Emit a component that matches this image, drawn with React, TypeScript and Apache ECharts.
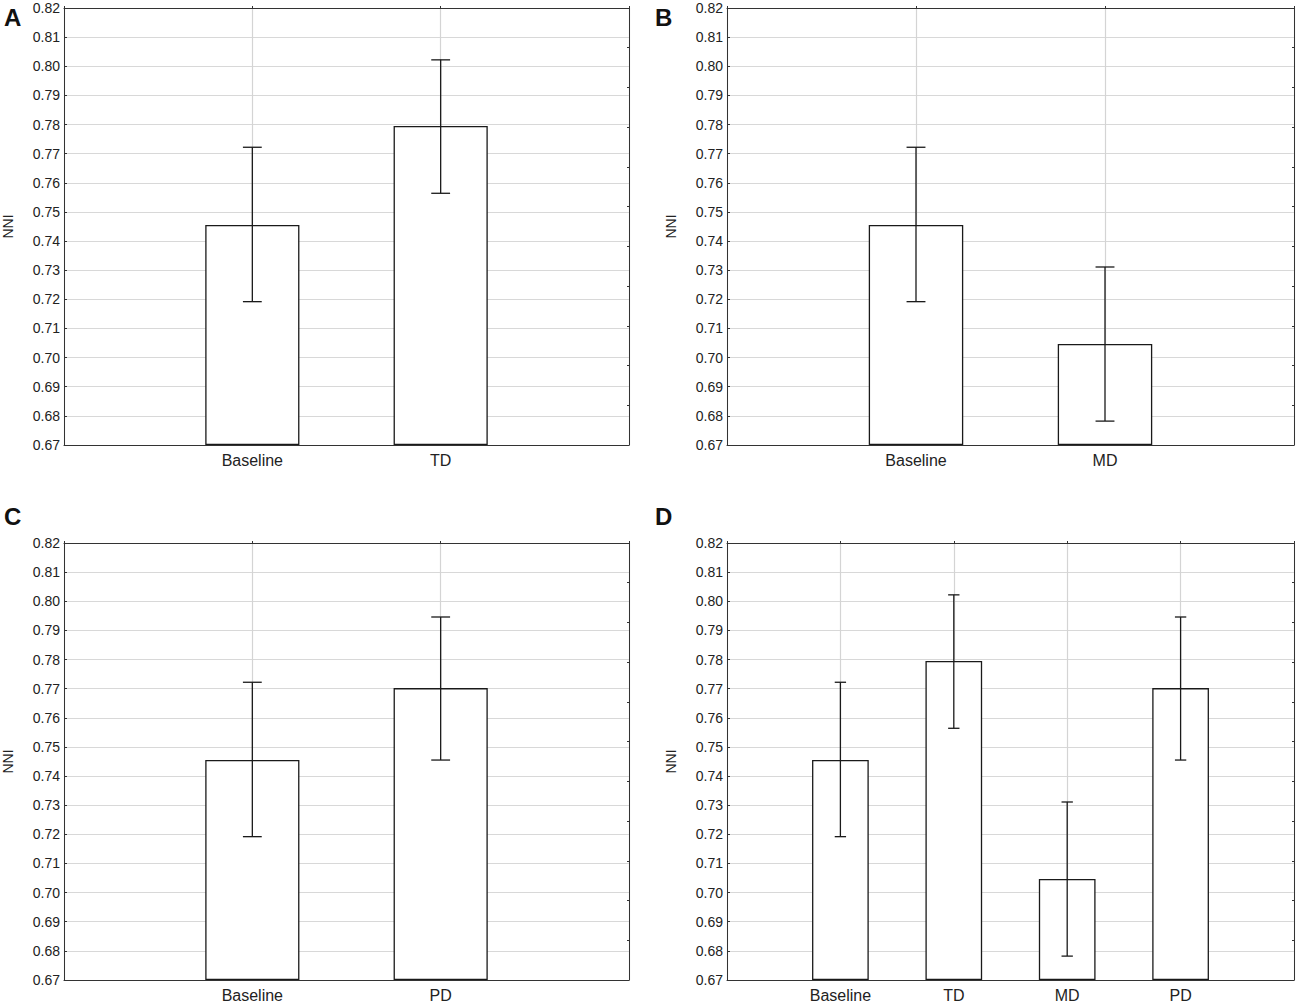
import React, { useEffect, useRef } from "react";
import * as echarts from "echarts";

const yTickMin = 0.67;
const yTickMax = 0.82;
const yTickStep = 0.01;

const panelLetters = ["A", "B", "C", "D"];
const panelCategories = [
  ["Baseline", "TD"],
  ["Baseline", "MD"],
  ["Baseline", "PD"],
  ["Baseline", "TD", "MD", "PD"],
];

const groupNames = ["Baseline", "TD", "MD", "PD"];
const meanValues = [0.7455, 0.7795, 0.7047, 0.7702];
const upperValues = [0.7722, 0.8022, 0.7311, 0.7946];
const lowerValues = [0.7192, 0.7564, 0.6782, 0.7455];

const FONT = "'Liberation Sans', Arial, Helvetica, sans-serif";
const TXT = "#222";
const LINE = "#333";

export default function App() {
  const ref = useRef<HTMLDivElement>(null);

  useEffect(() => {
    if (!ref.current) return;
    const chart = echarts.init(ref.current, undefined, { renderer: "svg" });

    const grids = [
      { left: 60, top: 8, width: 569, height: 437 },
      { left: 727, top: 8, width: 567, height: 437 },
      { left: 60, top: 543, width: 569, height: 437 },
      { left: 727, top: 543, width: 567, height: 437 },
    ];
    const letterPos = [
      [4, 5],
      [655, 5],
      [4, 504],
      [655, 504],
    ];

    const xAxis: any[] = [];
    const yAxis: any[] = [];
    const series: any[] = [];

    panelCategories.forEach((cats, i) => {
      const padded = ["", ...cats, ""];
      xAxis.push({
        type: "category",
        gridIndex: i,
        data: padded,
        boundaryGap: false,
        position: "bottom",
        axisLine: { show: true, lineStyle: { color: LINE, width: 1 } },
        axisTick: { show: true, inside: true, length: 3, lineStyle: { color: LINE } },
        axisLabel: { fontSize: 16, color: TXT, fontFamily: FONT, margin: 7, interval: 0 },
        splitLine: { show: true, lineStyle: { color: "#d4d4d4", width: 1.2 } },
      });
      xAxis.push({
        type: "category",
        gridIndex: i,
        data: padded,
        boundaryGap: false,
        position: "top",
        axisLine: { show: true, lineStyle: { color: LINE, width: 1 } },
        axisTick: { show: true, inside: false, length: 2, lineStyle: { color: LINE } },
        axisLabel: { show: false },
        splitLine: { show: false },
      });
      yAxis.push({
        type: "value",
        gridIndex: i,
        min: yTickMin,
        max: yTickMax,
        interval: yTickStep,
        startValue: yTickMin,
        position: "left",
        name: "NNI",
        nameLocation: "middle",
        nameRotate: 90,
        nameGap: 49,
        nameTextStyle: { fontSize: 14, color: TXT, fontFamily: FONT },
        axisLine: { show: true, lineStyle: { color: LINE, width: 1 } },
        axisTick: { show: true, inside: true, length: 3, lineStyle: { color: LINE } },
        axisLabel: {
          fontSize: 14,
          color: TXT,
          fontFamily: FONT,
          margin: 4,
          formatter: (v: number) => v.toFixed(2),
        },
        splitLine: { show: true, lineStyle: { color: "#d8d8d8", width: 1.2 } },
      });
      yAxis.push({
        type: "value",
        gridIndex: i,
        min: 0,
        max: 11,
        interval: 1,
        position: "right",
        axisLine: { show: true, lineStyle: { color: LINE, width: 1 } },
        axisTick: { show: true, inside: true, length: 2, lineStyle: { color: LINE } },
        axisLabel: { show: false },
        splitLine: { show: false },
      });

      const barData = padded.map((c) => {
        const k = groupNames.indexOf(c);
        return k >= 0 ? meanValues[k] : "-";
      });
      const errData = cats.map((c, j) => {
        const k = groupNames.indexOf(c);
        return [j + 1, lowerValues[k], upperValues[k]];
      });

      series.push({
        type: "bar",
        xAxisIndex: i * 2,
        yAxisIndex: i * 2,
        data: barData,
        barWidth: "50%",
        clip: true,
        itemStyle: { color: "#ffffff", borderColor: "#1a1a1a", borderWidth: 1.3 },
        silent: true,
        z: 2,
      });
      series.push({
        type: "custom",
        xAxisIndex: i * 2,
        yAxisIndex: i * 2,
        data: errData,
        encode: { x: 0, y: [1, 2] },
        z: 3,
        silent: true,
        renderItem: (params: any, api: any) => {
          const x = api.value(0);
          const lo = api.coord([x, api.value(1)]);
          const hi = api.coord([x, api.value(2)]);
          const bw = api.size([1, 0])[0];
          const hw = bw * 0.05;
          const st = { stroke: "#1a1a1a", lineWidth: 1.3 };
          return {
            type: "group",
            children: [
              { type: "line", shape: { x1: lo[0], y1: lo[1], x2: hi[0], y2: hi[1] }, style: st },
              { type: "line", shape: { x1: lo[0] - hw, y1: lo[1], x2: lo[0] + hw, y2: lo[1] }, style: st },
              { type: "line", shape: { x1: hi[0] - hw, y1: hi[1], x2: hi[0] + hw, y2: hi[1] }, style: st },
            ],
          };
        },
      });
    });

    const graphic = panelLetters.map((t, i) => ({
      type: "text",
      left: letterPos[i][0],
      top: letterPos[i][1],
      style: { text: t, fontSize: 24, fontWeight: "bold", fill: "#111", fontFamily: FONT },
    }));

    chart.setOption({
      animation: false,
      backgroundColor: "#ffffff",
      grid: grids.map((g) => ({ ...g, containLabel: false })),
      xAxis,
      yAxis,
      series,
      graphic,
    });

    return () => chart.dispose();
  }, []);

  return (
    <div
      ref={ref}
      style={{ position: "absolute", left: 0, top: 0, width: 1300, height: 1006, background: "#fff" }}
    />
  );
}
